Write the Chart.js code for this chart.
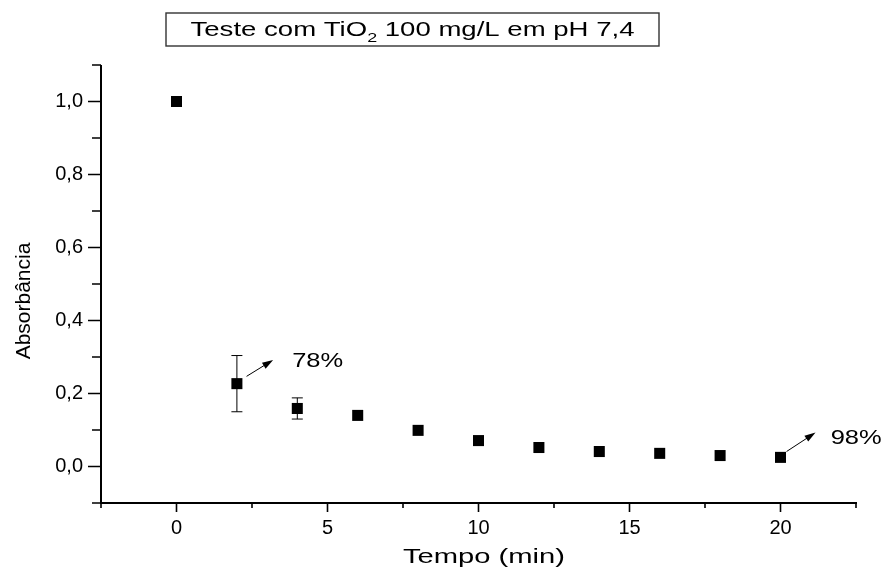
<!DOCTYPE html>
<html>
<head>
<meta charset="utf-8">
<script src="https://cdn.jsdelivr.net/npm/chart.js@4"></script>
<style>
  html, body { margin: 0; padding: 0; background: #fff; }
  #wrap { width: 885px; height: 570px; }
</style>
</head>
<body>
<div id="wrap"><canvas id="chart" width="885" height="570"></canvas></div>
<script>
const tempo = [0, 2, 4, 6, 8, 10, 12, 14, 16, 18, 20];
const absorbancia = [1.0, 0.227, 0.159, 0.14, 0.099, 0.071, 0.052, 0.041, 0.036, 0.030, 0.025];
const erro = [0, 0.077, 0.029, 0, 0, 0, 0, 0, 0, 0, 0];
const titleText = ["Teste com TiO", "2", " 100 mg/L em pH 7,4"];
const xTitle = "Tempo (min)";
const yTitle = "Absorbância";
// annotations: [arrowStartX, arrowStartY, arrowEndX, arrowEndY, textX, textY, label]
const notes = [
  [2.32, 0.247, 3.2, 0.292, 3.83, 0.288, "78%"],
  [20.2, 0.041, 21.16, 0.093, 21.66, 0.077, "98%"]
];

const FONT = "'Liberation Sans', Arial, sans-serif";

// the reference is stretched sideways, so free text is drawn to a target width
function stretchText(ctx, text, x, y, font, width, align) {
  ctx.save();
  ctx.font = font;
  const w = ctx.measureText(text).width;
  const sx = width / w;
  ctx.translate(x, y);
  ctx.scale(sx, 1);
  ctx.textBaseline = "middle";
  ctx.textAlign = align || "left";
  ctx.fillText(text, 0, 0);
  ctx.restore();
}

const errorBars = {
  id: "errorBars",
  afterDatasetsDraw(chart) {
    const { ctx, scales: { x, y } } = chart;
    ctx.save();
    ctx.strokeStyle = "#000";
    ctx.lineWidth = 1;
    tempo.forEach((t, i) => {
      if (!erro[i]) return;
      const px = x.getPixelForValue(t);
      const top = y.getPixelForValue(absorbancia[i] + erro[i]);
      const bot = y.getPixelForValue(absorbancia[i] - erro[i]);
      ctx.beginPath();
      ctx.moveTo(px, top); ctx.lineTo(px, bot);
      ctx.moveTo(px - 5.5, top); ctx.lineTo(px + 5.5, top);
      ctx.moveTo(px - 5.5, bot); ctx.lineTo(px + 5.5, bot);
      ctx.stroke();
    });
    ctx.restore();
  }
};

const decorations = {
  id: "decorations",
  afterDraw(chart) {
    const { ctx, scales: { x, y } } = chart;
    ctx.save();
    // axis lines and ticks
    ctx.strokeStyle = "#000";
    ctx.lineWidth = 2;
    const left = x.left, bottom = y.bottom;
    ctx.beginPath();
    ctx.moveTo(left, y.top); ctx.lineTo(left, bottom + 1);
    ctx.moveTo(left - 1, bottom); ctx.lineTo(x.right + 1, bottom);
    ctx.stroke();
    ctx.lineWidth = 1.6;
    ctx.beginPath();
    for (let v = -2.5; v <= 22.5 + 1e-9; v += 2.5) {
      const px = x.getPixelForValue(v);
      const len = Math.abs(v % 5) < 1e-9 ? 9 : 5;
      ctx.moveTo(px, bottom); ctx.lineTo(px, bottom + len);
    }
    for (let k = -1; k <= 11; k++) {
      const py = y.getPixelForValue(k / 10);
      const len = (k % 2 === 0) ? 13 : 9;
      ctx.moveTo(left, py); ctx.lineTo(left - len, py);
    }
    ctx.stroke();

    // arrows + labels
    ctx.fillStyle = "#000";
    ctx.lineWidth = 1;
    notes.forEach(n => {
      const x0 = x.getPixelForValue(n[0]), y0 = y.getPixelForValue(n[1]);
      const x1 = x.getPixelForValue(n[2]), y1 = y.getPixelForValue(n[3]);
      const a = Math.atan2(y1 - y0, x1 - x0);
      ctx.beginPath();
      ctx.moveTo(x0, y0); ctx.lineTo(x1 - 8 * Math.cos(a), y1 - 8 * Math.sin(a));
      ctx.stroke();
      ctx.beginPath();
      ctx.moveTo(x1, y1);
      ctx.lineTo(x1 - 11 * Math.cos(a) + 3.5 * Math.sin(a), y1 - 11 * Math.sin(a) - 3.5 * Math.cos(a));
      ctx.lineTo(x1 - 11 * Math.cos(a) - 3.5 * Math.sin(a), y1 - 11 * Math.sin(a) + 3.5 * Math.cos(a));
      ctx.closePath();
      ctx.fill();
      stretchText(ctx, n[6], x.getPixelForValue(n[4]), y.getPixelForValue(n[5]), "21px " + FONT, 51);
    });

    // axis titles
    stretchText(ctx, xTitle, 484, 557, "21px " + FONT, 162, "center");
    ctx.save();
    ctx.translate(24, 301);
    ctx.rotate(-Math.PI / 2);
    ctx.font = "21px " + FONT;
    ctx.textAlign = "center";
    ctx.textBaseline = "middle";
    ctx.fillText(yTitle, 0, 0);
    ctx.restore();

    // title box
    const bx = 166, by = 13, bw = 493, bh = 33;
    ctx.strokeStyle = "#333";
    ctx.lineWidth = 1.4;
    ctx.strokeRect(bx, by, bw, bh);
    const big = "20px " + FONT, small = "13px " + FONT;
    ctx.font = big;
    const w0 = ctx.measureText(titleText[0]).width;
    const w2 = ctx.measureText(titleText[2]).width;
    ctx.font = small;
    const w1 = ctx.measureText(titleText[1]).width;
    const sx = 444 / (w0 + w1 + w2);
    ctx.save();
    ctx.translate(bx + (bw - 444) / 2, by + bh / 2 + 1);
    ctx.scale(sx, 1);
    ctx.textAlign = "left";
    ctx.textBaseline = "middle";
    ctx.font = big; ctx.fillText(titleText[0], 0, 0);
    ctx.font = small; ctx.fillText(titleText[1], w0, 8);
    ctx.font = big; ctx.fillText(titleText[2], w0 + w1, 0);
    ctx.restore();
    ctx.restore();
  }
};

new Chart(document.getElementById("chart").getContext("2d"), {
  type: "scatter",
  data: {
    datasets: [{
      label: yTitle,
      data: tempo.map((t, i) => ({ x: t, y: absorbancia[i] })),
      pointStyle: "rect",
      pointRadius: 7.8,
      pointHoverRadius: 7.8,
      backgroundColor: "#000",
      borderColor: "#000",
      borderWidth: 0
    }]
  },
  options: {
    responsive: false,
    animation: false,
    layout: { padding: { top: 65, right: 29, left: 0, bottom: 0 } },
    plugins: { legend: { display: false }, tooltip: { enabled: false } },
    scales: {
      x: {
        type: "linear",
        min: -2.5, max: 22.5,
        afterFit: s => { s.height = 67; },
        border: { display: false },
        grid: { display: false },
        ticks: {
          stepSize: 2.5,
          autoSkip: false,
          color: "#000",
          padding: 5,
          maxRotation: 0,
          font: { family: FONT, size: 20 },
          callback: v => (Math.abs(v % 5) < 1e-9 ? String(v) : "")
        }
      },
      y: {
        type: "linear",
        min: -0.1, max: 1.1,
        afterFit: s => { s.width = 101; },
        border: { display: false },
        grid: { display: false },
        ticks: {
          stepSize: 0.1,
          autoSkip: false,
          color: "#000",
          padding: 10,
          font: { family: FONT, size: 20 },
          callback: v => {
            const k = Math.round(v * 10);
            return (k % 2 === 0 && k >= 0 && k <= 10) ? (k / 10).toFixed(1).replace(".", ",") : "";
          }
        }
      }
    }
  },
  plugins: [errorBars, decorations]
});
</script>
</body>
</html>
